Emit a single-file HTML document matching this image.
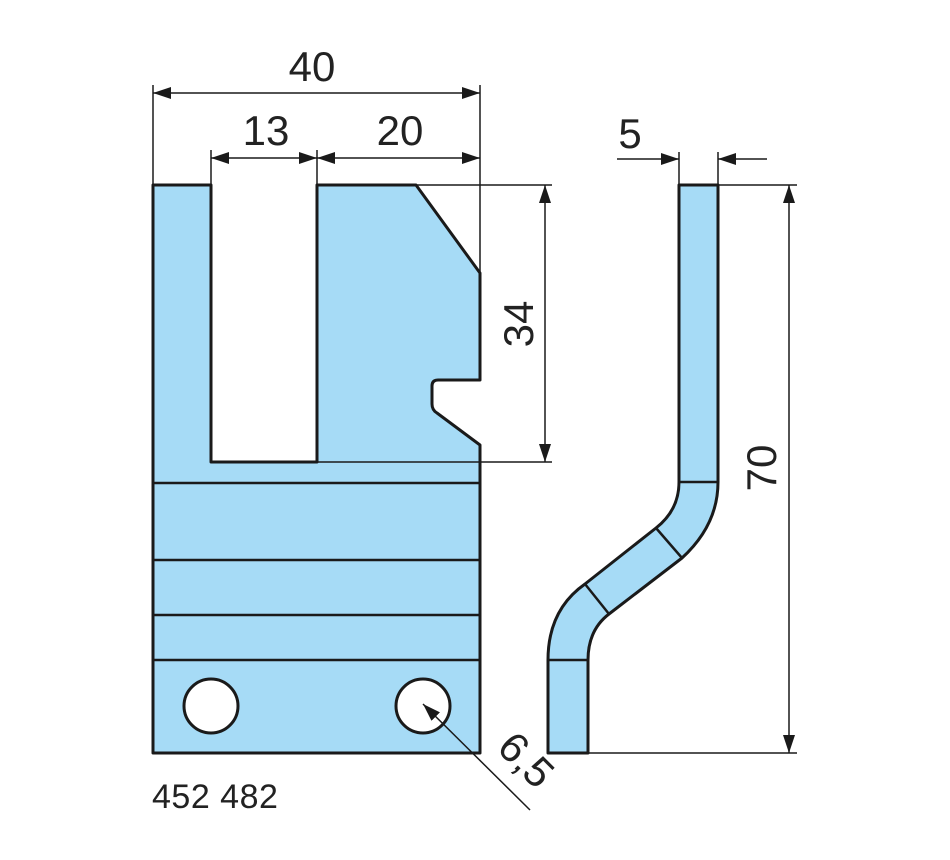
<!DOCTYPE html>
<html><head><meta charset="utf-8"><style>
html,body{margin:0;padding:0;background:#fff;}
svg{display:block;}
text{font-family:"Liberation Sans",sans-serif;fill:#222;}
</style></head><body>
<svg width="950" height="860" viewBox="0 0 950 860" xmlns="http://www.w3.org/2000/svg">
<defs>
<marker id="a" viewBox="0 0 18 12" refX="18" refY="6" markerWidth="18" markerHeight="12" markerUnits="userSpaceOnUse" orient="auto-start-reverse">
<path d="M0,0 L18,6 L0,12 Z" fill="#1a1a1a"/></marker>
</defs>
<path d="M153,185 H211 V462 H317 V185 H416 L480,273 V380 H438 Q432,380 432,386 V404 Q432,410 437,413 L480,445 V753 H153 Z" fill="#a6dbf6" stroke="#1a1a1a" stroke-width="3" stroke-linejoin="round"/>
<g stroke="#1a1a1a" stroke-width="2.5">
<line x1="153" y1="483" x2="480" y2="483"/>
<line x1="153" y1="560" x2="480" y2="560"/>
<line x1="153" y1="615" x2="480" y2="615"/>
<line x1="153" y1="660" x2="480" y2="660"/>
</g>
<circle cx="211" cy="706" r="27" fill="#fff" stroke="#1a1a1a" stroke-width="3"/>
<circle cx="423" cy="706" r="27" fill="#fff" stroke="#1a1a1a" stroke-width="3"/>
<path d="M679,185 H718 V482 Q718,525 682,558 L609,614 Q588,630 588,660 V753 H548 V660 Q548,610 585,584 L656,528 Q679,510 679,482 Z" fill="#a6dbf6" stroke="#1a1a1a" stroke-width="3" stroke-linejoin="round"/>
<g stroke="#1a1a1a" stroke-width="2.5">
<line x1="679" y1="482" x2="718" y2="482"/>
<line x1="656" y1="528" x2="682" y2="558"/>
<line x1="585" y1="584" x2="609" y2="614"/>
<line x1="548" y1="660" x2="588" y2="660"/>
</g>
<g stroke="#1a1a1a" stroke-width="1.5" fill="none">
<line x1="153" y1="85" x2="153" y2="185"/>
<line x1="480" y1="85" x2="480" y2="273"/>
<line x1="211" y1="150" x2="211" y2="185"/>
<line x1="317" y1="150" x2="317" y2="185"/>
<line x1="416" y1="185" x2="552" y2="185"/>
<line x1="317" y1="462" x2="552" y2="462"/>
<line x1="718" y1="185" x2="797" y2="185"/>
<line x1="588" y1="753" x2="797" y2="753"/>
<line x1="679" y1="152" x2="679" y2="185"/>
<line x1="718" y1="152" x2="718" y2="185"/>
<line x1="153" y1="93" x2="480" y2="93" marker-start="url(#a)" marker-end="url(#a)"/>
<line x1="211" y1="158" x2="317" y2="158" marker-start="url(#a)" marker-end="url(#a)"/>
<line x1="317" y1="158" x2="480" y2="158" marker-start="url(#a)" marker-end="url(#a)"/>
<line x1="545" y1="185" x2="545" y2="462" marker-start="url(#a)" marker-end="url(#a)"/>
<line x1="789" y1="185" x2="789" y2="753" marker-start="url(#a)" marker-end="url(#a)"/>
<line x1="617" y1="159" x2="679" y2="159" marker-end="url(#a)"/>
<line x1="767" y1="159" x2="718" y2="159" marker-end="url(#a)"/>
<line x1="530" y1="810" x2="423" y2="704" marker-end="url(#a)"/>
</g>
<g font-size="42">
<text x="312" y="81" text-anchor="middle">40</text>
<text x="266" y="145" text-anchor="middle">13</text>
<text x="400" y="145" text-anchor="middle">20</text>
<text x="630" y="148" text-anchor="middle">5</text>
<text transform="translate(533,324) rotate(-90)" text-anchor="middle">34</text>
<text transform="translate(776,468) rotate(-90)" text-anchor="middle">70</text>
<text transform="translate(516,770) rotate(45)" text-anchor="middle">6,5</text>
</g>
<text x="152" y="808" font-size="34" letter-spacing="0.5" fill="#333">452 482</text>
</svg>
</body></html>
